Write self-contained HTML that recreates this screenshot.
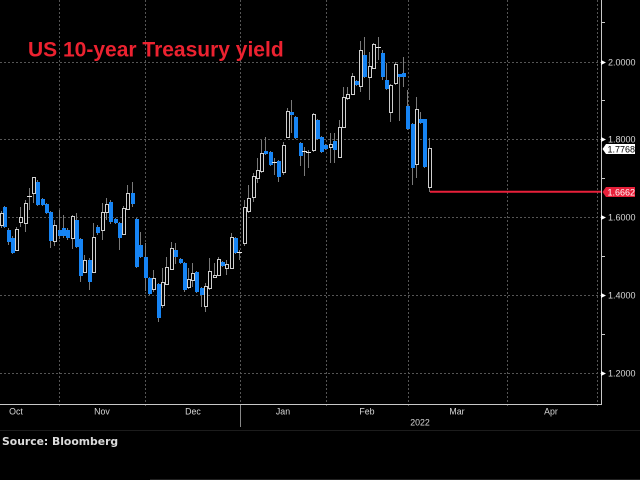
<!DOCTYPE html>
<html><head><meta charset="utf-8"><style>
html,body{margin:0;padding:0;background:#000;}
svg{display:block;}
</style></head><body>
<svg width="640" height="480" viewBox="0 0 640 480" xmlns="http://www.w3.org/2000/svg">
<rect width="640" height="480" fill="#000"/>
<path d="M0 62.5H601M0 139.5H601M0 217.5H601M0 295.5H601M0 373.5H601M59.5 0V407M145.5 0V407M240.5 0V404M326.5 0V407M408.5 0V407M507.5 0V407M597.5 0V407" stroke="#555" stroke-width="1" stroke-dasharray="2,2" fill="none"/>
<text x="28" y="56.5" font-family="Liberation Sans, Arial, sans-serif" font-weight="bold" font-size="21" fill="#ec2230">US 10-year Treasury yield</text>
<path stroke="#7a7a7a" stroke-width="1" fill="none" d="M1.5 211V228M4.5 206V228M8.5 228V245M12.5 236V254M16.5 227V251M20.5 207V227M25.5 200V232M29.5 188V210M33.5 177V203M37.5 180V206M42.5 198V206M46.5 203V214M50.5 211V248M54.5 220V246M59.5 210V239M63.5 215V238M67.5 228V240M72.5 215V249M76.5 213V248M80.5 238V282M84.5 255V273M89.5 258V290M93.5 223V273M97.5 225V235M102.5 203V240M106.5 198V220M110.5 200V224M115.5 218V224M119.5 222V250M123.5 206V235M127.5 185V209M132.5 182V207M136.5 218V268M140.5 232V258M145.5 243V291M149.5 277V295M153.5 270V292M158.5 283V322M162.5 268V308M166.5 257V285M171.5 242V270M175.5 243V264M180.5 258V264M184.5 262V292M188.5 268V289M192.5 263V287M196.5 271V293M201.5 287V307M205.5 283V312M209.5 258V290M214.5 263V278M218.5 257V276M222.5 261V267M226.5 260V275M231.5 233V269M235.5 237V254M239.5 250V260M244.5 200V246M248.5 185V213M253.5 173V202M257.5 158V183M261.5 140V173M265.5 137V155M270.5 151V166M274.5 158V175M278.5 160V182M283.5 142V175M287.5 108V138M291.5 100V133M295.5 116V139M300.5 142V166M304.5 147V176M308.5 150V168M313.5 113V152M317.5 119V140M321.5 136V153M325.5 144V150M330.5 133V163M334.5 133V163M339.5 120V158M343.5 87V128M347.5 87V100M352.5 73V95M356.5 80V86M360.5 41V92M364.5 37V78M369.5 52V100M373.5 43V69M378.5 37V60M382.5 50V80M386.5 63V90M390.5 84V122M395.5 62V85M399.5 74V121M403.5 57V87M407.5 90V130M412.5 123V185M416.5 97V178M420.5 112V124M424.5 119V168M429.5 138V192"/>
<path fill="#1684f4" d="M3 207h4v20h-4zM7 230h4v12h-4zM11 238h4v15h-4zM36 182h4v23h-4zM41 199h4v6h-4zM45 204h4v9h-4zM49 212h4v29h-4zM58 230h4v6h-4zM62 228h4v8h-4zM66 230h4v8h-4zM75 220h4v27h-4zM79 239h4v37h-4zM88 260h4v22h-4zM96 227h4v6h-4zM109 202h4v20h-4zM114 219h4v4h-4zM118 223h4v15h-4zM131 193h4v11h-4zM135 219h4v48h-4zM139 245h4v12h-4zM144 257h4v21h-4zM148 278h4v16h-4zM157 284h4v34h-4zM174 250h4v7h-4zM179 259h4v4h-4zM183 263h4v27h-4zM195 272h4v20h-4zM200 288h4v7h-4zM221 262h4v4h-4zM234 238h4v15h-4zM264 151h4v3h-4zM269 152h4v13h-4zM277 161h4v16h-4zM290 112h4v3h-4zM294 117h4v21h-4zM299 143h4v13h-4zM316 120h4v19h-4zM320 137h4v15h-4zM324 145h4v4h-4zM333 141h4v9h-4zM355 81h4v4h-4zM363 55h4v22h-4zM381 53h4v24h-4zM385 80h4v9h-4zM398 74h4v3h-4zM402 73h4v4h-4zM406 106h4v23h-4zM411 124h4v44h-4zM419 119h4v4h-4zM423 119h4v48h-4z"/>
<path fill="#000" stroke="#cfcfcf" stroke-width="1" d="M0.5 213.5h3v12h-3zM15.5 229.5h3v21h-3zM19.5 217.5h3v5h-3zM24.5 203.5h3v20h-3zM32.5 177.5h3v16h-3zM53.5 225.5h3v16h-3zM71.5 216.5h3v22h-3zM83.5 260.5h3v12h-3zM92.5 237.5h3v35h-3zM101.5 212.5h3v18h-3zM105.5 204.5h3v8h-3zM122.5 208.5h3v26h-3zM126.5 193.5h3v16h-3zM152.5 278.5h3v11h-3zM161.5 282.5h3v23h-3zM165.5 267.5h3v17h-3zM170.5 248.5h3v21h-3zM187.5 279.5h3v8h-3zM191.5 273.5h3v7h-3zM204.5 286.5h3v20h-3zM208.5 271.5h3v17h-3zM213.5 275.5h3v2h-3zM217.5 259.5h3v16h-3zM225.5 264.5h3v4h-3zM230.5 237.5h3v31h-3zM243.5 207.5h3v36h-3zM247.5 198.5h3v13h-3zM252.5 176.5h3v21h-3zM256.5 170.5h3v8h-3zM260.5 153.5h3v18h-3zM282.5 145.5h3v27h-3zM286.5 111.5h3v26h-3zM312.5 114.5h3v36h-3zM329.5 144.5h3v3h-3zM338.5 127.5h3v30h-3zM342.5 97.5h3v30h-3zM346.5 94.5h3v4h-3zM351.5 76.5h3v18h-3zM359.5 50.5h3v36h-3zM368.5 66.5h3v11h-3zM372.5 44.5h3v24h-3zM389.5 85.5h3v27h-3zM394.5 64.5h3v19h-3zM415.5 109.5h3v55h-3zM428.5 148.5h3v39h-3z"/>
<path stroke="#e8e8e8" stroke-width="1" fill="none" d="M27 196.5H32M237 252.5H242M272 162.5H277M302 151.5H307M306 152.5H311M376 47.5H381"/>
<path d="M430 191.7H602" stroke="#e8203a" stroke-width="2"/>
<path d="M601.5 0V405M0 404.5H602M601 22.5H605M601 100.5H605M601 178.5H605M601 256.5H605M601 334.5H605" stroke="#c8c8c8" stroke-width="1" fill="none"/>
<path d="M240.5 405V427" stroke="#888" stroke-width="1"/>
<path fill="#fff" d="M601 60L606 62.5L601 65zM601 137L606 139.5L601 142zM601 215L606 217.5L601 220zM601 293L606 295.5L601 298zM601 371L606 373.5L601 376z"/>
<g font-family="Liberation Sans, Arial, sans-serif" font-size="9" fill="#d8d8d8">
<text x="608" y="65.5">2.0000</text>
<text x="608" y="142.5">1.8000</text>
<text x="608" y="220.5">1.6000</text>
<text x="608" y="298.5">1.4000</text>
<text x="608" y="376.5">1.2000</text>
</g>
<path d="M602.5 149L606 144H635V154H606z" fill="#fff"/>
<text x="607.5" y="152.3" font-family="Liberation Sans, Arial, sans-serif" font-size="9" fill="#000">1.7768</text>
<path d="M602.5 192L606 187H635V197H606z" fill="#e8203a"/>
<text x="607.5" y="195.3" font-family="Liberation Sans, Arial, sans-serif" font-size="9" fill="#fff">1.6662</text>
<g font-family="Liberation Sans, Arial, sans-serif" font-size="8.8" fill="#d8d8d8" text-anchor="middle">
<text x="16" y="414.5">Oct</text>
<text x="102" y="414.5">Nov</text>
<text x="193" y="414.5">Dec</text>
<text x="283" y="414.5">Jan</text>
<text x="367" y="414.5">Feb</text>
<text x="457" y="414.5">Mar</text>
<text x="551" y="414.5">Apr</text>
<text x="420" y="425.5">2022</text>
</g>
<path d="M0 430.5H640" stroke="#1c1c1c" stroke-width="1"/>
<text x="2" y="445" font-family="DejaVu Sans, Verdana, sans-serif" font-weight="bold" font-size="10.8" fill="#dcdcdc">Source: Bloomberg</text>
<path d="M150 479.5H640" stroke="#222" stroke-width="1"/>
</svg>
</body></html>
